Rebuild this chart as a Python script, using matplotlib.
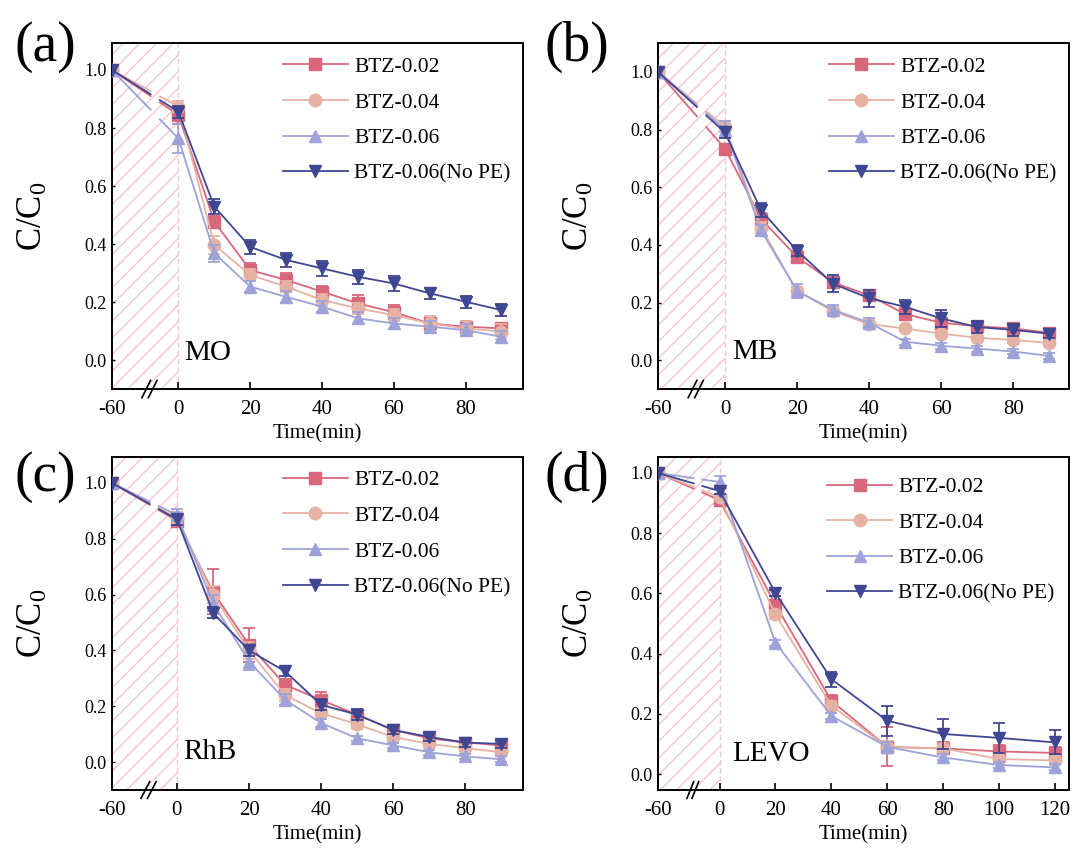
import matplotlib
matplotlib.use('Agg')
import matplotlib.pyplot as plt
import numpy as np

plt.rcParams['font.family'] = ['Liberation Serif', 'DejaVu Serif']
plt.rcParams['mathtext.fontset'] = 'custom'
plt.rcParams['mathtext.rm'] = 'Liberation Serif'
plt.rcParams['mathtext.it'] = 'Liberation Serif:italic'
plt.rcParams['hatch.linewidth'] = 1.0

names = ['BTZ-0.02', 'BTZ-0.04', 'BTZ-0.06', 'BTZ-0.06(No PE)']
colors = ['#D8677B', '#E6B2A4', '#9DA2D8', '#3F4692']
markers = ['s', 'o', '^', 'v']

# MO
t_mo = [-60, 0, 10, 20, 30, 40, 50, 60, 70, 80, 90]
mo_002 = [1.0, 0.845, 0.477, 0.31, 0.276, 0.236, 0.195, 0.165, 0.126, 0.115, 0.109]
mo_004 = [1.0, 0.874, 0.397, 0.293, 0.253, 0.207, 0.178, 0.155, 0.126, 0.109, 0.098]
mo_006 = [1.0, 0.764, 0.368, 0.253, 0.218, 0.184, 0.144, 0.126, 0.115, 0.103, 0.08]
mo_nope = [1.0, 0.856, 0.529, 0.39, 0.345, 0.316, 0.287, 0.264, 0.23, 0.201, 0.172]
mo_err = [[0, 0.03, 0.02, 0.025, 0.025, 0.02, 0.03, 0.025, 0.02, 0.02, 0.02],
          [0, 0.02, 0.03, 0.02, 0.02, 0.02, 0.02, 0.02, 0.025, 0.025, 0.025],
          [0, 0.05, 0.03, 0.02, 0.02, 0.02, 0.02, 0.02, 0.02, 0.02, 0.02],
          [0, 0.02, 0.025, 0.025, 0.025, 0.025, 0.025, 0.025, 0.02, 0.02, 0.02]]

# MB
t_mb = [-60, 0, 10, 20, 30, 40, 50, 60, 70, 80, 90]
mb_002 = [1.0, 0.734, 0.49, 0.358, 0.27, 0.225, 0.16, 0.13, 0.118, 0.11, 0.095]
mb_004 = [1.0, 0.81, 0.46, 0.24, 0.17, 0.125, 0.11, 0.092, 0.078, 0.07, 0.06]
mb_006 = [1.0, 0.80, 0.45, 0.24, 0.175, 0.13, 0.064, 0.05, 0.04, 0.03, 0.015]
mb_nope = [1.0, 0.79, 0.52, 0.38, 0.265, 0.215, 0.185, 0.145, 0.115, 0.105, 0.092]
mb_err = [[0, 0.015, 0.02, 0.02, 0.02, 0.02, 0.02, 0.015, 0.015, 0.015, 0.015],
          [0, 0.02, 0.02, 0.015, 0.015, 0.015, 0.01, 0.01, 0.01, 0.01, 0.01],
          [0, 0.03, 0.02, 0.025, 0.015, 0.015, 0.01, 0.01, 0.01, 0.01, 0.01],
          [0, 0.02, 0.025, 0.02, 0.03, 0.03, 0.025, 0.03, 0.02, 0.02, 0.015]]

# RhB
t_rhb = [-60, 0, 10, 20, 30, 40, 50, 60, 70, 80, 90]
rhb_002 = [1.0, 0.865, 0.61, 0.42, 0.277, 0.222, 0.17, 0.115, 0.085, 0.07, 0.06]
rhb_004 = [1.0, 0.875, 0.60, 0.40, 0.24, 0.175, 0.135, 0.09, 0.065, 0.05, 0.035]
rhb_006 = [1.0, 0.885, 0.57, 0.36, 0.223, 0.14, 0.085, 0.06, 0.035, 0.02, 0.01]
rhb_nope = [1.0, 0.87, 0.535, 0.40, 0.325, 0.205, 0.17, 0.115, 0.09, 0.07, 0.065]
rhb_err = [[0, 0.02, 0.08, 0.06, 0.02, 0.03, 0.015, 0.015, 0.015, 0.01, 0.01],
           [0, 0.02, 0.03, 0.03, 0.02, 0.02, 0.015, 0.015, 0.01, 0.01, 0.01],
           [0, 0.02, 0.03, 0.03, 0.02, 0.015, 0.01, 0.01, 0.01, 0.01, 0.01],
           [0, 0.02, 0.02, 0.02, 0.015, 0.02, 0.02, 0.015, 0.015, 0.015, 0.015]]

# LEVO
t_levo = [-60, 0, 20, 40, 60, 80, 100, 120]
levo_002 = [1.0, 0.91, 0.563, 0.243, 0.09, 0.085, 0.075, 0.07]
levo_004 = [1.0, 0.92, 0.53, 0.227, 0.09, 0.085, 0.05, 0.045]
levo_006 = [1.0, 0.97, 0.436, 0.193, 0.09, 0.055, 0.03, 0.022]
levo_nope = [1.0, 0.94, 0.602, 0.315, 0.177, 0.133, 0.12, 0.105]
levo_err = [[0, 0.01, 0.015, 0.02, 0.065, 0.02, 0.02, 0.02],
            [0, 0.01, 0.015, 0.015, 0.02, 0.015, 0.015, 0.015],
            [0, 0.02, 0.01, 0.01, 0.015, 0.01, 0.01, 0.01],
            [0, 0.01, 0.01, 0.025, 0.05, 0.05, 0.05, 0.04]]

panels = [
    dict(tag='(a)', name='MO', t=t_mo, ys=[mo_002, mo_004, mo_006, mo_nope], err=mo_err,
         rect=[0.1045, 0.5434, 0.3834, 0.4061], brk=-18.5, xmax=96, ylim=(-0.1, 1.093),
         ticks=[-60, 0, 20, 40, 60, 80], label_xy=(1.5, 0.0), leg=(0.416, 0.96),
         tag_xy=(0.042, 0.945)),
    dict(tag='(b)', name='MB', t=t_mb, ys=[mb_002, mb_004, mb_006, mb_nope], err=mb_err,
         rect=[0.6138, 0.5434, 0.3834, 0.4061], brk=-18.6, xmax=95.5, ylim=(-0.1, 1.1),
         ticks=[-60, 0, 20, 40, 60, 80], label_xy=(2.0, 0.005), leg=(0.416, 0.96),
         tag_xy=(0.538, 0.945)),
    dict(tag='(c)', name='RhB', t=t_rhb, ys=[rhb_002, rhb_004, rhb_006, rhb_nope], err=rhb_err,
         rect=[0.1045, 0.0728, 0.3834, 0.3908], brk=-18.0, xmax=96, ylim=(-0.1, 1.093),
         ticks=[-60, 0, 20, 40, 60, 80], label_xy=(1.7, 0.012), leg=(0.416, 0.96),
         tag_xy=(0.042, 0.440)),
    dict(tag='(d)', name='LEVO', t=t_levo, ys=[levo_002, levo_004, levo_006, levo_nope], err=levo_err,
         rect=[0.6138, 0.0728, 0.3834, 0.3908], brk=-22, xmax=125, ylim=(-0.053, 1.053),
         ticks=[-60, 0, 20, 40, 60, 80, 100, 120], label_xy=(4.7, 0.044), leg=(0.412, 0.94),
         tag_xy=(0.538, 0.440)),
]

fig = plt.figure(figsize=(10.72, 8.52), dpi=100)

for p in panels:
    ax = fig.add_axes(p['rect'])
    t = np.array(p['t'], dtype=float)
    x = np.where(t == -60, p['brk'], t)

    # dark adsorption period
    ax.axvspan(p['brk'], 0, facecolor='none', edgecolor='#F4C6D0', hatch='//', linewidth=0, zorder=0)
    ax.axvline(0, color='#F4C6D0', lw=1.0, ls=(0, (4, 2)), zorder=0)

    for i in range(4):
        y = np.array(p['ys'][i])
        c = colors[i]
        # first segment broken at the axis break
        f1, f2 = 0.58, 0.72
        xa = [x[0], x[0] + f1 * (x[1] - x[0])]
        ya = [y[0], y[0] + f1 * (y[1] - y[0])]
        xb = [x[0] + f2 * (x[1] - x[0]), x[1]]
        yb = [y[0] + f2 * (y[1] - y[0]), y[1]]
        ax.plot(xa, ya, color=c, lw=1.3, zorder=2 + i)
        ax.plot(xb, yb, color=c, lw=1.3, zorder=2 + i)
        ax.plot(x[1:], y[1:], color=c, lw=1.3, zorder=2 + i)
        ax.errorbar(x[1:], y[1:], yerr=p['err'][i][1:], fmt='none', ecolor=c,
                    elinewidth=1.3, capsize=4, capthick=1.3, zorder=2 + i)
        ax.plot(x, y, linestyle='none', marker=markers[i], color=c, ms=9, zorder=2 + i)
        # legend proxy
        ax.plot([], [], color=c, lw=1.3, marker=markers[i], ms=9, label=names[i])

    ax.set_xlim(p['brk'], p['xmax'])
    ax.set_ylim(*p['ylim'])
    ax.set_xticks([p['brk'] if v == -60 else v for v in p['ticks']])
    ax.set_xticklabels([str(v) for v in p['ticks']])
    ax.set_yticks([0.0, 0.2, 0.4, 0.6, 0.8, 1.0])
    ax.set_yticklabels(['0.0', '0.2', '0.4', '0.6', '0.8', '1.0'])
    ax.tick_params(axis='x', direction='in', length=5, width=1.2, labelsize=15, pad=8)
    ax.tick_params(axis='y', direction='in', length=2.5, width=1.0, labelsize=13, pad=4)
    for s in ax.spines.values():
        s.set_linewidth(1.4)

    # axis break marks
    bx = p['brk'] + 0.58 * (0 - p['brk'])
    for dx in (-1.2, 0.6):
        ax.plot([bx + dx - 1.2, bx + dx + 1.2], [-0.025, 0.025], color='black', lw=1.2,
                transform=ax.get_xaxis_transform(), clip_on=False, zorder=10)

    ax.set_xlabel('Time(min)', fontsize=15, labelpad=4)
    ax.set_ylabel(r'$\mathrm{C/C_0}$', fontsize=25)
    ax.yaxis.set_label_coords(-0.15, 0.5)

    ax.text(p['label_xy'][0], p['label_xy'][1], p['name'], fontsize=21, ha='left', va='baseline')

    ax.legend(loc='upper left', bbox_to_anchor=p['leg'], frameon=False, fontsize=15.5,
              handlelength=3.0, handletextpad=0.3, labelspacing=0.72, borderpad=0,
              borderaxespad=0, numpoints=1)

    fig.text(p['tag_xy'][0], p['tag_xy'][1], p['tag'], fontsize=40, ha='center', va='center')

fig.savefig('out.png', dpi=100)
